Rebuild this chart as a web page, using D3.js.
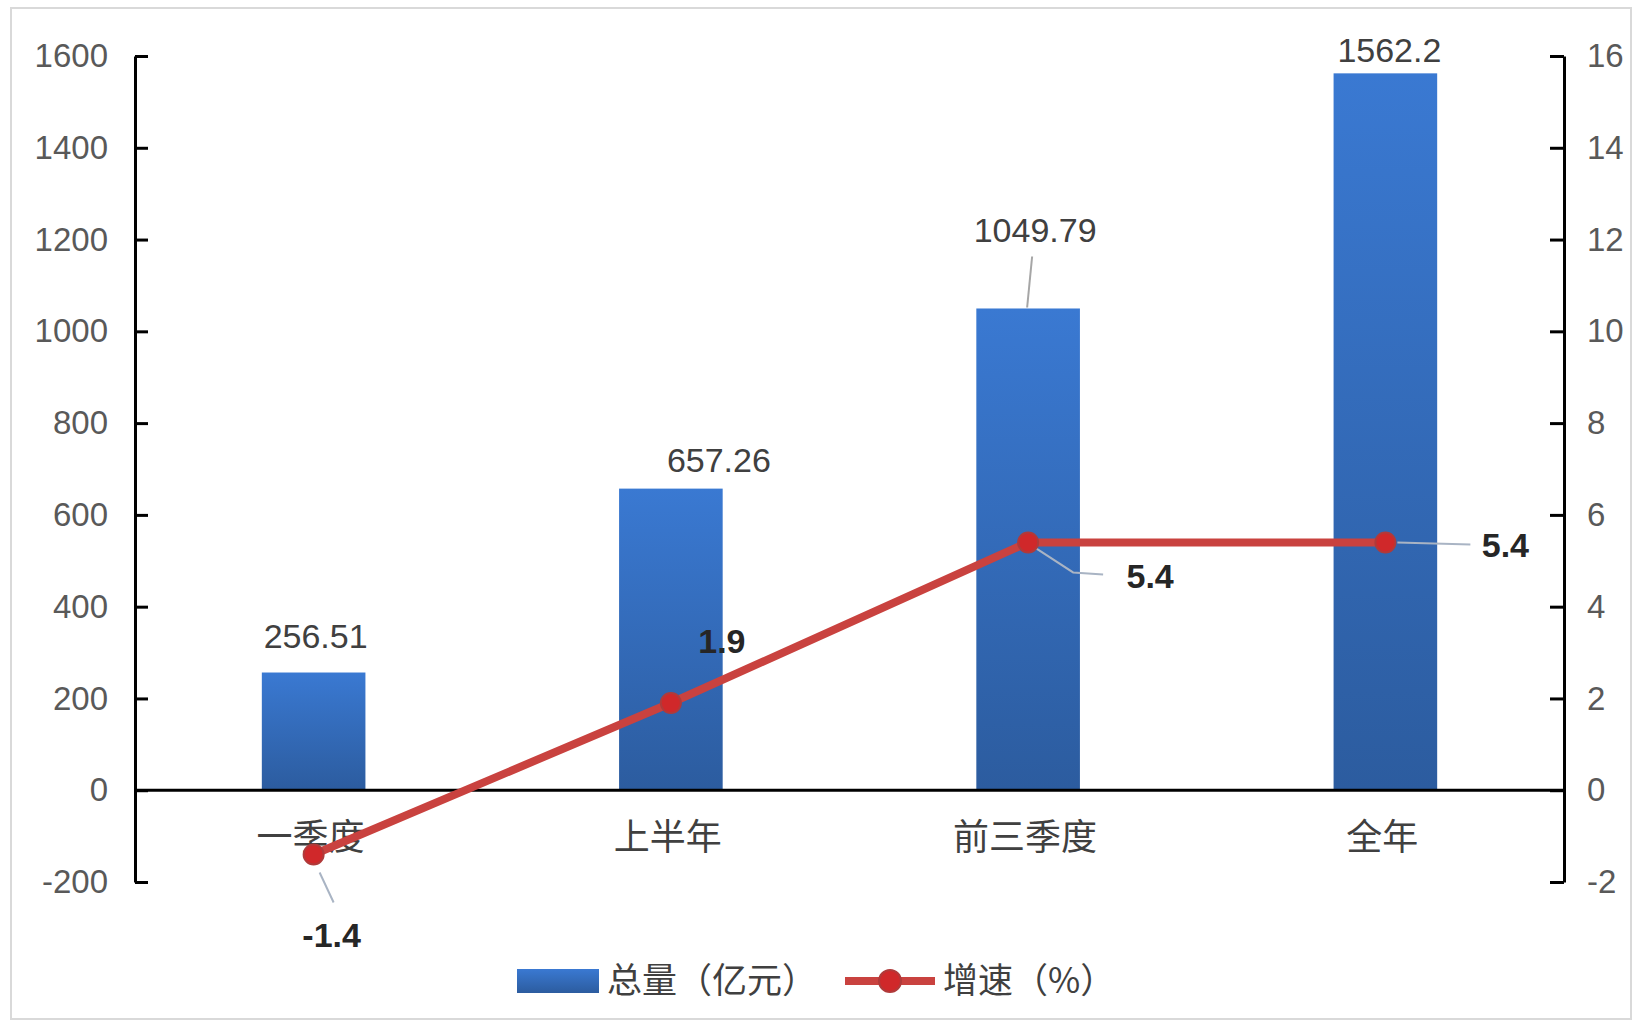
<!DOCTYPE html>
<html>
<head>
<meta charset="utf-8">
<script src="https://cdn.jsdelivr.net/npm/d3@7"></script>
<style>
  html, body { margin: 0; padding: 0; background: #fff; }
  svg { display: block; }
  text { font-family: "Liberation Sans", Arial, sans-serif; }
  .cjk { font-family: "Noto Sans CJK SC", "Noto Sans", sans-serif; }
</style>
</head>
<body>
<svg id="chart" width="1634" height="1022"></svg>
<script>
// ---- data ----
const categories = ["一季度", "上半年", "前三季度", "全年"];
const totals = [256.51, 657.26, 1049.79, 1562.2];      // 总量（亿元）
const growth = [-1.4, 1.9, 5.4, 5.4];                  // 增速（%）
const leftTicks = [-200, 0, 200, 400, 600, 800, 1000, 1200, 1400, 1600];
const rightTicks = [-2, 0, 2, 4, 6, 8, 10, 12, 14, 16];
const seriesNames = ["总量（亿元）", "增速（%）"];

// ---- label placement (offsets from the mark, pixels) ----
const barLabelOffsets = [[2, -25], [48, -17], [7, -66], [4, -11]];
const lineLabelOffsets = [[18, 93], [51, -50], [122, 46], [120, 15]];

const svg = d3.select("#chart");
const W = 1634, H = 1022;
const margin = { left: 135, right: 70 };
const x0 = margin.left, x1 = W - margin.right;   // 135 .. 1564
const yTop = 56, yBot = 882;

// frame
svg.append("rect").attr("x", 11).attr("y", 8).attr("width", 1620).attr("height", 1011)
  .attr("fill", "#fff").attr("stroke", "#d9d9d9").attr("stroke-width", 2);

const defs = svg.append("defs");
const grad = defs.append("linearGradient").attr("id", "barGrad")
  .attr("x1", 0).attr("y1", 0).attr("x2", 0).attr("y2", 1);
grad.append("stop").attr("offset", "0%").attr("stop-color", "#3a79d2");
grad.append("stop").attr("offset", "100%").attr("stop-color", "#2c5c9f");

const x = d3.scaleBand().domain(categories).range([x0, x1]).paddingInner(0.71).paddingOuter(0.355);
const yL = d3.scaleLinear().domain([-200, 1600]).range([yBot, yTop]);
const yR = d3.scaleLinear().domain([-2, 16]).range([yBot, yTop]);
const cx = c => x(c) + x.bandwidth() / 2;
const plain = d => String(d);

// bars
svg.append("g").selectAll("rect").data(totals).join("rect")
  .attr("x", (d, i) => x(categories[i]))
  .attr("width", x.bandwidth())
  .attr("y", d => yL(d))
  .attr("height", d => yL(0) - yL(d))
  .attr("fill", "url(#barGrad)");

// left axis
const axL = svg.append("g").attr("transform", `translate(${x0},0)`)
  .call(d3.axisLeft(yL).tickValues(leftTicks).tickSize(-13).tickSizeOuter(0).tickPadding(27).tickFormat(plain));
axL.select(".domain").attr("stroke", "#000").attr("stroke-width", 3);
axL.selectAll(".tick line").attr("stroke", "#000").attr("stroke-width", 3);
axL.selectAll(".tick text").attr("font-size", 33).attr("fill", "#595959")
  .style("font-family", "'Liberation Sans', Arial, sans-serif");

// right axis
const axR = svg.append("g").attr("transform", `translate(${x1},0)`)
  .call(d3.axisRight(yR).tickValues(rightTicks).tickSize(-14).tickSizeOuter(0).tickPadding(23).tickFormat(plain));
axR.select(".domain").attr("stroke", "#000").attr("stroke-width", 3);
axR.selectAll(".tick line").attr("stroke", "#000").attr("stroke-width", 3);
axR.selectAll(".tick text").attr("font-size", 33).attr("fill", "#595959")
  .style("font-family", "'Liberation Sans', Arial, sans-serif");

// zero baseline
svg.append("line").attr("x1", x0).attr("x2", x1).attr("y1", yL(0)).attr("y2", yL(0))
  .attr("stroke", "#000").attr("stroke-width", 3);

// category labels
svg.append("g").selectAll("text").data(categories).join("text")
  .attr("class", "cjk")
  .attr("x", d => cx(d) - 3)
  .attr("y", yL(0) + 60)
  .attr("text-anchor", "middle")
  .attr("font-size", 36)
  .attr("fill", "#404040")
  .text(d => d);

// bar value labels
svg.append("g").selectAll("text").data(totals).join("text")
  .attr("x", (d, i) => cx(categories[i]) + barLabelOffsets[i][0])
  .attr("y", (d, i) => yL(d) + barLabelOffsets[i][1])
  .attr("text-anchor", "middle")
  .attr("font-size", 34)
  .attr("fill", "#404040")
  .text(d => d);

// leader for 1049.79
{
  const i = 2;
  svg.append("line")
    .attr("x1", cx(categories[i]) + 4).attr("y1", yL(totals[i]) + barLabelOffsets[i][1] + 14)
    .attr("x2", cx(categories[i]) - 1).attr("y2", yL(totals[i]) - 1)
    .attr("stroke", "#a6a6a6").attr("stroke-width", 2);
}

// line series
const line = d3.line().x((d, i) => cx(categories[i])).y(d => yR(d));
svg.append("path").datum(growth)
  .attr("d", line).attr("fill", "none")
  .attr("stroke", "#c9423f").attr("stroke-width", 8).attr("stroke-linejoin", "round");

// leaders for line labels
const pts = growth.map((d, i) => [cx(categories[i]), yR(d)]);
const leaders = [
  [[pts[0][0] + 6, pts[0][1] + 18], [pts[0][0] + 20, pts[0][1] + 48]],
  [[pts[2][0] + 8, pts[2][1] + 6], [pts[2][0] + 45, pts[2][1] + 30], [pts[2][0] + 75, pts[2][1] + 32]],
  [[pts[3][0] + 12, pts[3][1]], [pts[3][0] + 85, pts[3][1] + 2]]
];
svg.append("g").selectAll("path").data(leaders).join("path")
  .attr("d", d => d3.line()(d)).attr("fill", "none")
  .attr("stroke", "#a9b4c4").attr("stroke-width", 2);

// markers
svg.append("g").selectAll("circle").data(growth).join("circle")
  .attr("cx", (d, i) => cx(categories[i])).attr("cy", d => yR(d)).attr("r", 10)
  .attr("fill", "#d0282a").attr("stroke", "#b03a3a").attr("stroke-width", 2);

// line value labels
svg.append("g").selectAll("text").data(growth).join("text")
  .attr("x", (d, i) => cx(categories[i]) + lineLabelOffsets[i][0])
  .attr("y", (d, i) => yR(d) + lineLabelOffsets[i][1])
  .attr("text-anchor", "middle")
  .attr("font-size", 34)
  .attr("font-weight", "bold")
  .attr("fill", "#262626")
  .text(d => d);

// legend
const lg = svg.append("g");
const ly = 981;
lg.append("rect").attr("x", 517).attr("y", ly - 12).attr("width", 82).attr("height", 24).attr("fill", "url(#barGrad)");
lg.append("text").attr("class", "cjk").attr("x", 607).attr("y", ly).attr("dy", "0.35em")
  .attr("font-size", 35).attr("fill", "#404040").text(seriesNames[0]);
lg.append("line").attr("x1", 845).attr("x2", 935).attr("y1", ly).attr("y2", ly)
  .attr("stroke", "#c9423f").attr("stroke-width", 8);
lg.append("circle").attr("cx", 890).attr("cy", ly).attr("r", 11)
  .attr("fill", "#d0282a").attr("stroke", "#b03a3a").attr("stroke-width", 2);
lg.append("text").attr("class", "cjk").attr("x", 943).attr("y", ly).attr("dy", "0.35em")
  .attr("font-size", 35).attr("fill", "#404040").text(seriesNames[1]);
</script>
</body>
</html>
